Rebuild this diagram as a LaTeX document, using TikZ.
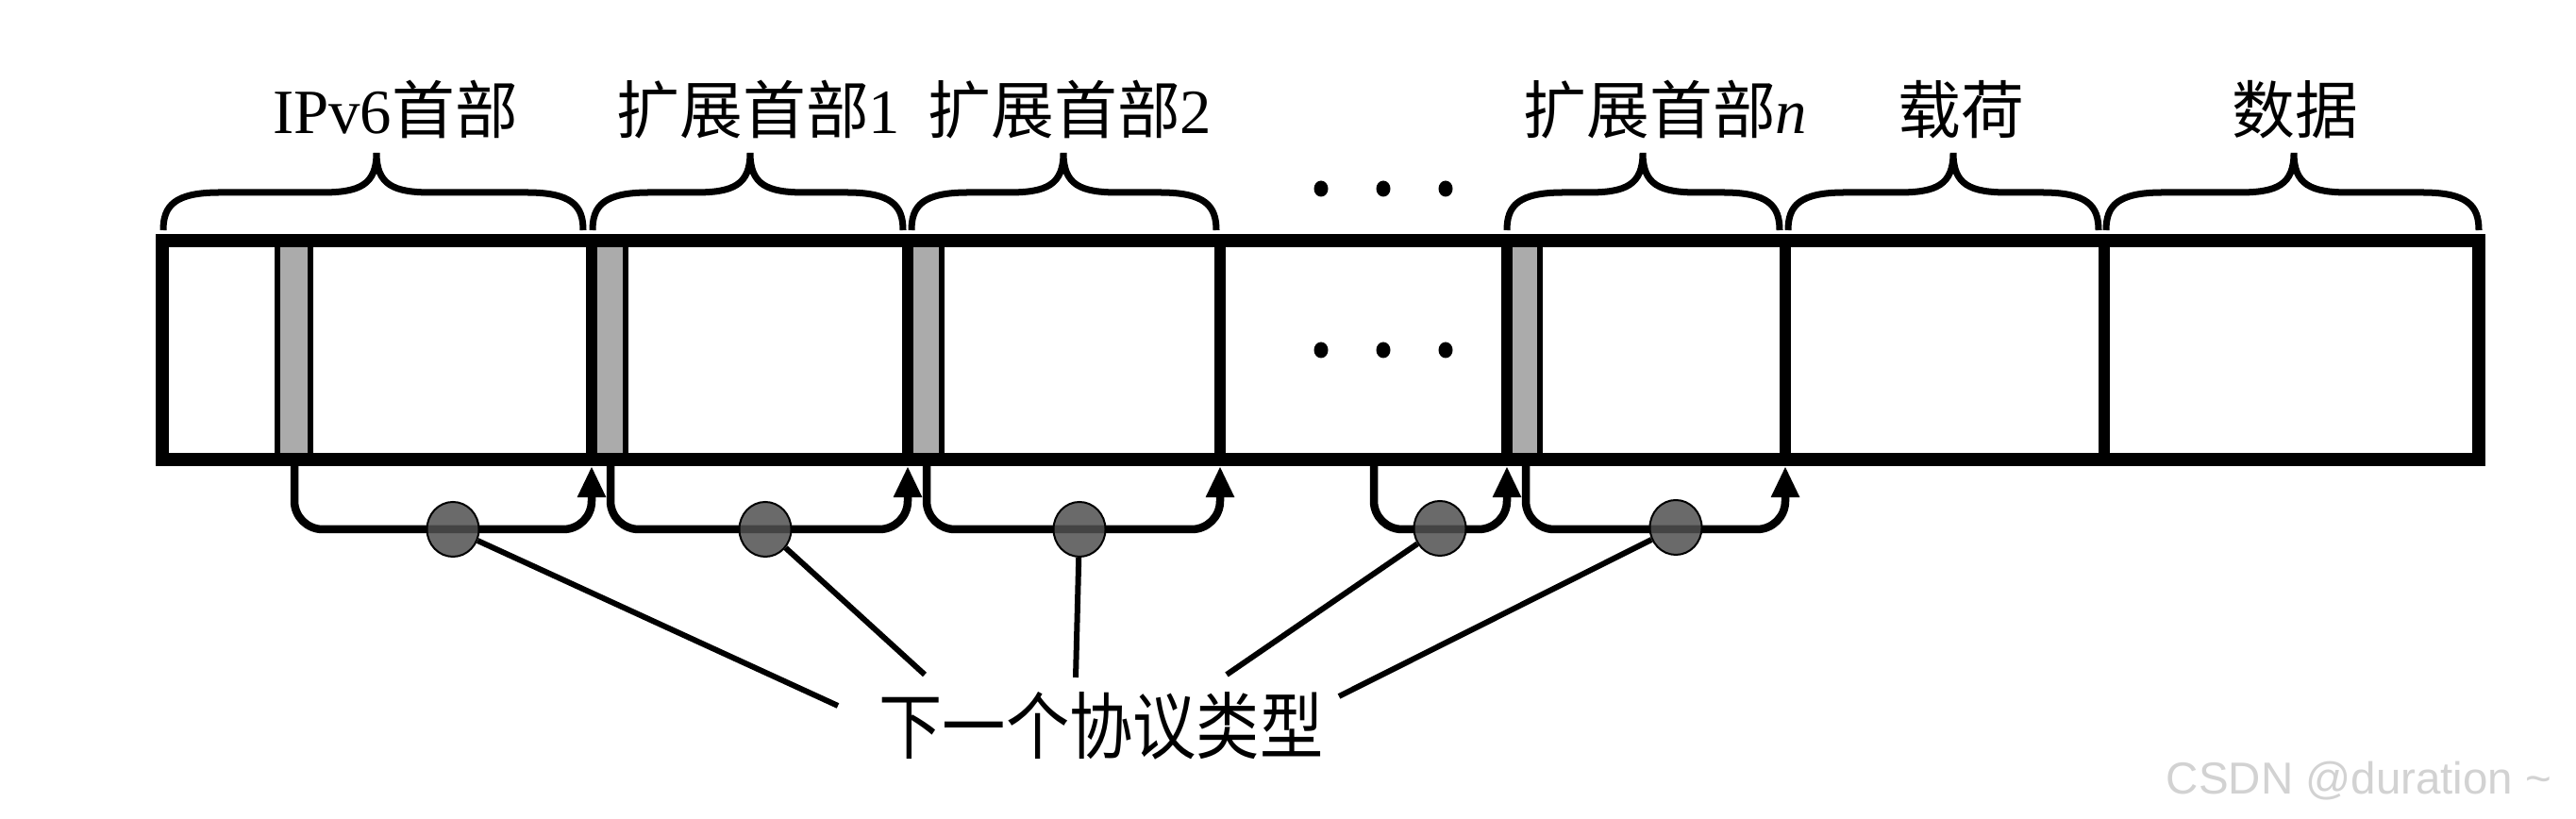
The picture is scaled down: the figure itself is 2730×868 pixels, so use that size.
\documentclass[tikz,border=0pt]{standalone}
\usepackage{fontspec}
\setmainfont{Liberation Serif}
\newfontfamily\cjk{Noto Sans CJK SC}
\newfontfamily\wmfont{Liberation Sans}
\usetikzlibrary{arrows.meta,shapes.geometric}
\definecolor{barfill}{HTML}{ABABAB}
\definecolor{dotfill}{HTML}{505050}
\newcommand\drawbrace[3]{%
  \draw[bracestyle] (#1,244) .. controls (#1,218) and (#1+12,204) .. (#1+60,204)
    -- (#3-58,204) .. controls (#3-18,204) and (#3,196) .. (#3,162)
    .. controls (#3,196) and (#3+18,204) .. (#3+58,204)
    -- (#2-60,204) .. controls (#2-12,204) and (#2,218) .. (#2,244);}
\tikzset{
  outer/.style={line width=0.14cm},
  divider/.style={line width=0.12cm},
  greybar/.style={fill=barfill, draw=black, line width=0.06cm},
  link/.style={line width=0.085cm, rounded corners=0.3cm, -{Triangle[length=0.33cm,width=0.28cm]}},
  marker/.style={ellipse, minimum width=0.55cm, minimum height=0.58cm, inner sep=0pt,
    fill=dotfill, fill opacity=0.85, draw=black, line width=0.02cm},
  pointer/.style={line width=0.06cm},
  bracestyle/.style={line width=0.07cm},
  ddot/.style={ellipse, fill=black, minimum width=0.15cm, minimum height=0.17cm, inner sep=0pt},
  toplabel/.style={anchor=base, font=\fontsize{19}{22}\selectfont, inner sep=0pt},
}
\begin{document}
\begin{tikzpicture}[x=0.01cm,y=-0.01cm]
\fill[white] (0,0) rectangle (2730,868);
\useasboundingbox (0,0) rectangle (2730,868);

% grey bars (next-header fields)
\draw[greybar] (294,259) rectangle (329,484);
\draw[greybar] (630,259) rectangle (663,484);
\draw[greybar] (965,259) rectangle (998,484);
\draw[greybar] (1600,259) rectangle (1632,484);

% outer box and dividers
\draw[outer] (172,255.5) rectangle (2627,487.5);
\foreach \x in {627,962,1293,1597,1892,2230}
  \draw[divider] (\x,255) -- (\x,488);

% braces
\drawbrace{173}{618}{399}
\drawbrace{628}{957}{795}
\drawbrace{966}{1289}{1127}
\drawbrace{1597}{1886}{1741}
\drawbrace{1895}{2224}{2070}
\drawbrace{2232}{2627}{2431}

% labels
\node[toplabel] (l1) at (419,142) {IPv6{\cjk 首部}};
\node[toplabel] (l2) at (804,142) {{\cjk 扩展首部}1};
\node[toplabel] (l3) at (1134,142) {{\cjk 扩展首部}2};
\node[toplabel] (l4) at (1765,142) {{\cjk 扩展首部}\textit{n}};
\node[toplabel] (l5) at (2078,142) {{\cjk 载荷}};
\node[toplabel] (l6) at (2432,142) {{\cjk 数据}};

% ellipsis dots
\node[ddot] (p1) at (1400,200) {};
\node[ddot] (p2) at (1466,200) {};
\node[ddot] (p3) at (1532,200) {};
\node[ddot] (p4) at (1400,371) {};
\node[ddot] (p5) at (1466,371) {};
\node[ddot] (p6) at (1532,371) {};

% connector end points
\coordinate (s1) at (312,494);  \coordinate (e1) at (627,494);
\coordinate (s2) at (647,494);  \coordinate (e2) at (962,494);
\coordinate (s3) at (982,494);  \coordinate (e3) at (1293,494);
\coordinate (s4) at (1456,494); \coordinate (e4) at (1597,494);
\coordinate (s5) at (1617,494); \coordinate (e5) at (1892,494);

\draw[link] (s1) -- ++(0,67) -| (e1);
\draw[link] (s2) -- ++(0,67) -| (e2);
\draw[link] (s3) -- ++(0,67) -| (e3);
\draw[link] (s4) -- ++(0,67) -| (e4);
\draw[link] (s5) -- ++(0,67) -| (e5);

% markers
\node[marker] (c1) at (480,561) {};
\node[marker] (c2) at (811,561) {};
\node[marker] (c3) at (1144,561) {};
\node[marker] (c4) at (1526,560) {};
\node[marker] (c5) at (1776,559) {};

% bottom label and pointers
\node[anchor=base, font=\cjk\fontsize{22}{26}\selectfont, inner sep=0pt] (nt) at (1167,799) {\scalebox{0.87}[1]{下一个协议类型}};
\coordinate (t1) at (888,748);
\coordinate (t2) at (980,715);
\coordinate (t3) at (1140,718);
\coordinate (t4) at (1300,715);
\coordinate (t5) at (1419,738);
\draw[pointer] (c1) -- (t1);
\draw[pointer] (c2) -- (t2);
\draw[pointer] (c3) -- (t3);
\draw[pointer] (c4) -- (t4);
\draw[pointer] (c5) -- (t5);

% watermark
\node[anchor=base, font=\wmfont\fontsize{13.5}{16}\selectfont, text=gray!35, inner sep=0pt] (wm) at (2500,842) {CSDN @duration \textasciitilde};
\end{tikzpicture}
\end{document}
